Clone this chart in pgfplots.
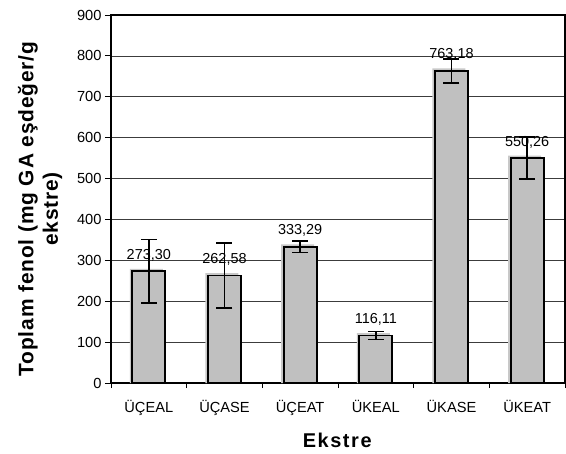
\documentclass[border=0pt]{standalone}
\usepackage{pgfplots}
\pgfplotsset{compat=1.18}
\usepackage{fontspec}
\setmainfont{Liberation Sans}
\definecolor{barfill}{RGB}{192,192,192}
\definecolor{shadowc}{RGB}{200,200,200}
\definecolor{gridc}{RGB}{60,60,60}
\pgfplotstableread{
x y e lab sh
0 273.30 78 273,30 279.3
1 262.58 79 262,58 268.6
2 333.29 14 333,29 339.3
3 116.11 10 116,11 122.1
4 763.18 30 763,18 769.2
5 550.26 51 550,26 556.3
}\datatable
\begin{document}
\begin{tikzpicture}
\begin{axis}[
  scale only axis,
  width=454bp, height=368bp,
  xmin=-0.5, xmax=5.5,
  ymin=0, ymax=900,
  ytick={0,100,...,900},
  xtick={0,1,2,3,4,5},
  xticklabels={ÜÇEAL,ÜÇASE,ÜÇEAT,ÜKEAL,ÜKASE,ÜKEAT},
  minor xtick={-0.5,0.5,1.5,2.5,3.5,4.5,5.5},
  major x tick style={draw=none},
  minor tick length=5bp,
  major tick length=6bp,
  tick align=outside,
  tick style={black, line width=0.9pt},
  xtick pos=bottom, ytick pos=left,
  ymajorgrids,
  grid style={gridc, line width=0.7pt},
  axis line style={black, line width=1.6pt},
  /pgf/number format/assume math mode=true,
  tick label style={font=\fontsize{14.7}{17}\selectfont},
  xticklabel style={anchor=base, yshift=-23bp},
  xlabel={\textbf{Ekstre}},
  xlabel style={font=\fontsize{20}{22}\selectfont\addfontfeatures{LetterSpace=8},
    at={(axis description cs:0.5,0)}, anchor=base, yshift=-64bp},
  ylabel={\textbf{Toplam fenol (mg GA eşdeğer/g}\\\textbf{ekstre)}},
  ylabel style={font=\fontsize{21}{24.5}\selectfont\addfontfeatures{LetterSpace=4},
    align=center, at={(axis description cs:-0.1560,0.474)}, anchor=center},
  ybar, bar width=33bp,
]
\addplot[fill=shadowc, draw=none, bar shift=-2.5bp, bar width=33bp, forget plot]
  table[x=x, y=sh] {\datatable};
\addplot[fill=barfill, draw=black, line width=1.7pt, bar shift=0pt,
  nodes near coords,
  point meta=explicit symbolic,
  every node near coord/.append style={font=\fontsize{14.5}{16}\selectfont, anchor=base, inner sep=0pt, yshift=12bp, black, line width=0pt},
  error bars/.cd, y dir=both, y explicit,
  error bar style={black, line width=1.7pt},
  error mark options={rotate=90, mark size=8bp, black, line width=1.7pt}]
  table[x=x, y=y, y error=e, meta=lab] {\datatable};
\end{axis}
\pgfresetboundingbox
\path[use as bounding box] (current axis.south west) ++(-111bp,-71bp) rectangle ++(566bp,454bp);
\end{tikzpicture}
\end{document}
